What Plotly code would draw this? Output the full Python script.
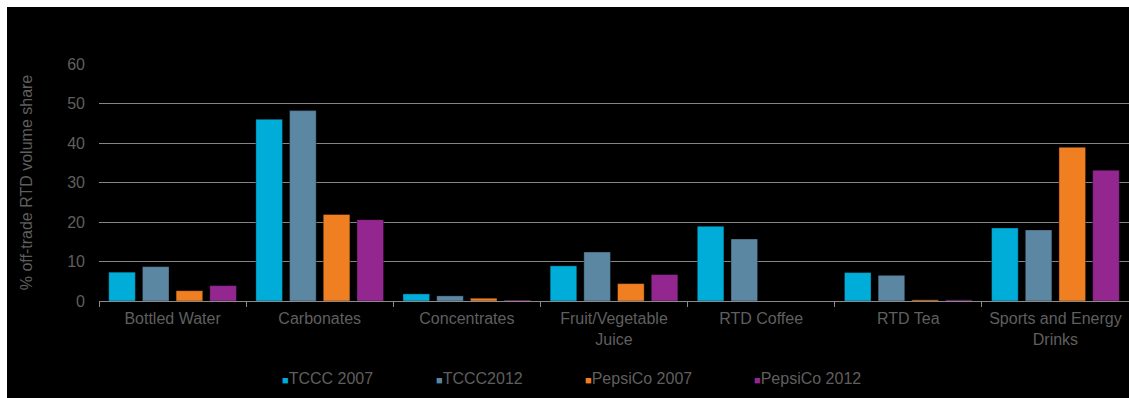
import plotly.graph_objects as go

categories = ["Bottled Water", "Carbonates", "Concentrates", "Fruit/Vegetable<br>Juice",
              "RTD Coffee", "RTD Tea", "Sports and Energy<br>Drinks"]
tccc_2007 = [7.3, 46.0, 1.8, 8.9, 18.9, 7.2, 18.5]
tccc_2012 = [8.7, 48.2, 1.3, 12.4, 15.7, 6.5, 18.0]
pepsico_2007 = [2.6, 21.9, 0.7, 4.4, 0.0, 0.3, 38.9]
pepsico_2012 = [3.9, 20.6, 0.25, 6.7, 0.0, 0.3, 33.1]
series_names = ["TCCC 2007", "TCCC2012", "PepsiCo 2007", "PepsiCo 2012"]
series_values = [tccc_2007, tccc_2012, pepsico_2007, pepsico_2012]
colors = ["#00ACD8", "#5B87A3", "#F07F22", "#93278F"]
y_ticks = [0, 10, 20, 30, 40, 50, 60]

W, H = 1129, 398
ML, MR, MT, MB = 99, 0, 64, 97
font = "Liberation Sans, Arial, sans-serif"
txt = "#5f5f5f"
pw = W - ML - MR
ph = H - MT - MB

fig = go.Figure()
for name, vals, c in zip(series_names, series_values, colors):
    fig.add_trace(go.Bar(x=categories, y=vals, name=name, showlegend=False,
                         marker=dict(color=c, line=dict(color="rgba(0,0,0,0.35)", width=1))))

# black panel with white strip at top/left
fig.add_shape(type="rect", xref="paper", yref="paper", layer="below",
              x0=(7 - ML) / pw, x1=(W - ML) / pw,
              y0=-MB / ph, y1=(H - MB - 7) / ph,
              fillcolor="black", line=dict(width=0))

# custom legend: small squares close to the text
legend_px = [280, 434, 583, 752]
legend_y_px = 378
for name, c, px in zip(series_names, colors, legend_px):
    fig.add_annotation(
        xref="paper", yref="paper", x=(px - ML) / pw, y=(H - MB - legend_y_px) / ph,
        xanchor="left", yanchor="middle", showarrow=False,
        text=f"<span style='color:{c};font-size:11px'>■</span>{name}",
        font=dict(family=font, size=16, color=txt))

fig.update_layout(
    width=W, height=H,
    margin=dict(l=ML, r=MR, t=MT, b=MB),
    paper_bgcolor="white", plot_bgcolor="black",
    barmode="group", bargap=0.084, bargroupgap=0.21,
    font=dict(family=font, size=16, color=txt),
    showlegend=False,
    xaxis=dict(showgrid=False, showline=True, linecolor="#8a8a8a", linewidth=1,
               ticks="outside", tickson="boundaries", ticklen=5, tickcolor="#8a8a8a",
               tickfont=dict(size=16, color=txt), zeroline=False, ticklabelstandoff=3),
    yaxis=dict(range=[0, 60], tickvals=y_ticks, showgrid=True, gridcolor="#858585",
               gridwidth=1, zeroline=False, showline=False,
               tickfont=dict(size=16, color=txt), ticklabelstandoff=13,
               title=dict(text="% off-trade RTD volume share", font=dict(size=16, color=txt),
                          standoff=30)),
)

fig.write_html("out.html")
